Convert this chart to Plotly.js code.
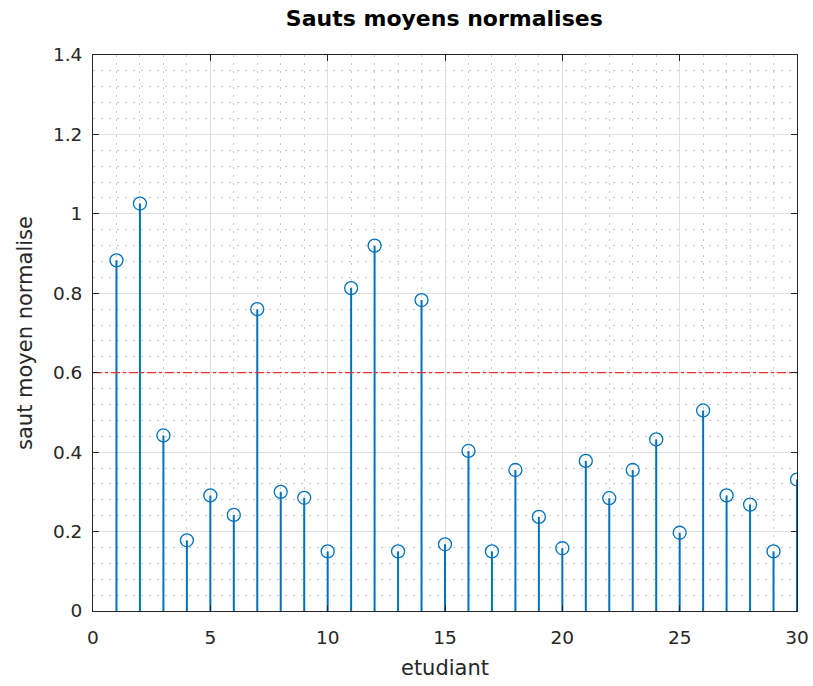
<!DOCTYPE html>
<html><head><meta charset="utf-8">
<script src="https://cdn.plot.ly/plotly-3.0.1.min.js"></script>
<style>html,body{margin:0;padding:0;background:#fff}</style>
</head><body>
<div id="chart" style="width:813px;height:686px"></div>
<script>
const etudiants = [1,2,3,4,5,6,7,8,9,10,11,12,13,14,15,16,17,18,19,20,21,22,23,24,25,26,27,28,29,30];
const sauts = [0.883,1.026,0.442,0.178,0.291,0.242,0.760,0.300,0.285,0.150,
               0.813,0.920,0.150,0.783,0.168,0.403,0.150,0.355,0.237,0.158,
               0.378,0.284,0.355,0.432,0.197,0.505,0.291,0.268,0.150,0.331];
const seuil = 0.6;

const stemX = [], stemY = [];
etudiants.forEach((e, i) => { stemX.push(e, e, null); stemY.push(0, sauts[i], null); });

const blue = '#0072BD';
const FONT = 'DejaVu Sans, Liberation Sans, Arial, sans-serif';
const traces = [
  {x: stemX, y: stemY, type: 'scatter', mode: 'lines', line: {color: blue, width: 2}, hoverinfo: 'skip', showlegend: false},
  {x: etudiants, y: sauts, type: 'scatter', mode: 'markers',
   marker: {symbol: 'circle-open', size: 13, color: blue, line: {width: 1.3, color: blue}}, showlegend: false},
  {x: [0, 30], y: [seuil, seuil], type: 'scatter', mode: 'lines',
   line: {color: '#e8302c', width: 1.2, dash: 'dashdot'}, showlegend: false}
];

const axisCommon = {
  showline: true, linecolor: '#262626', linewidth: 1, mirror: 'ticks',
  ticks: 'inside', ticklen: 6, tickcolor: '#262626',
  gridcolor: '#dfdfdf', gridwidth: 1, zeroline: false,
  tickfont: {family: FONT, size: 18.5, color: '#262626'}
};

const layout = {
  width: 813, height: 686,
  margin: {l: 93, r: 16, t: 55, b: 75},
  paper_bgcolor: '#fff', plot_bgcolor: '#fff',
  title: {text: '<b>Sauts moyens normalises</b>', x: 0.5465, xanchor: 'center', y: 0.9735, yanchor: 'middle',
          font: {family: FONT, size: 22, color: '#000'}},
  xaxis: Object.assign({}, axisCommon, {
    range: [0, 30], dtick: 5, tick0: 0, ticklabelstandoff: 10,
    minor: {dtick: 1, showgrid: true, griddash: '2px,6px', gridcolor: '#c8c8c8', gridwidth: 1},
    title: {text: 'etudiant', standoff: 13, font: {family: FONT, size: 21, color: '#262626'}}
  }),
  yaxis: Object.assign({}, axisCommon, {
    range: [0, 1.4], dtick: 0.2, tick0: 0, ticklabelstandoff: 6,
    minor: {dtick: 0.04, showgrid: true, griddash: '2px,6px', gridcolor: '#c8c8c8', gridwidth: 1},
    title: {text: 'saut moyen normalise', standoff: 14, font: {family: FONT, size: 21, color: '#262626'}}
  })
};

Plotly.newPlot('chart', traces, layout, {displayModeBar: false, staticPlot: true});
</script>
</body></html>
